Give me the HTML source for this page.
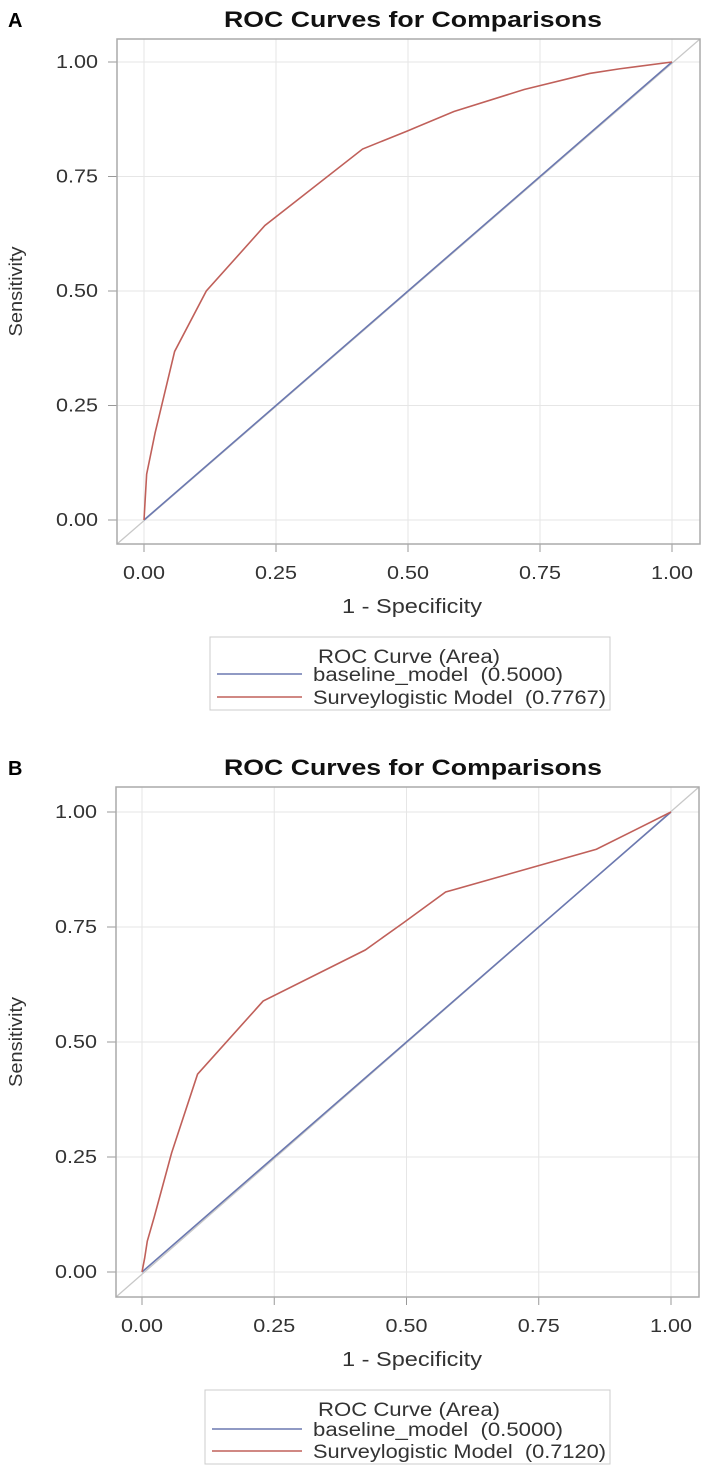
<!DOCTYPE html>
<html><head><meta charset="utf-8"><style>
body{margin:0;background:#fff;width:709px;height:1470px;overflow:hidden}
svg{display:block;font-family:"Liberation Sans",sans-serif}
text{white-space:pre}
</style></head><body>
<svg id="s" width="709" height="1470"></svg>
<script>
const xTicks=[0,0.25,0.5,0.75,1];
const yTicks=[0,0.25,0.5,0.75,1];
const tickLabels=["0.00","0.25","0.50","0.75","1.00"];
const baseFpr=[0,1];
const baseTpr=[0,1];
const aFpr=[0,0.005,0.021,0.058,0.118,0.229,0.414,0.5,0.587,0.72,0.844,0.9,1];
const aTpr=[0,0.1,0.19,0.368,0.5,0.643,0.81,0.85,0.892,0.94,0.975,0.985,1];
const bFpr=[0,0.005,0.01,0.023,0.056,0.105,0.229,0.422,0.494,0.574,0.859,1];
const bTpr=[0,0.03,0.067,0.119,0.259,0.43,0.589,0.70,0.759,0.826,0.919,1];
const legendLabels=["baseline_model  (0.5000)"];
const aucA="Surveylogistic Model  (0.7767)";
const aucB="Surveylogistic Model  (0.7120)";
const NS="http://www.w3.org/2000/svg";
const svg=document.getElementById('s');
function mk(t,a,p,txt){const e=document.createElementNS(NS,t);for(const k in a)e.setAttribute(k,a[k]);if(txt!==undefined)e.textContent=txt;(p||svg).appendChild(e);return e;}
function panel(letter,cfg,fpr,tpr,auc){
 const g=mk('g',{});
 
 
 const X=v=>cfg.x0+v*(cfg.x1-cfg.x0), Y=v=>cfg.y0-v*(cfg.y0-cfg.y1);
 const fl=cfg.fl,fr=cfg.fr,ft=cfg.ft,fb=cfg.fb;
 let e=mk('text',{x:8,y:ft-12,'font-size':20,'font-weight':'bold',fill:'#000'},g,letter);
 
 e=mk('text',{x:224,y:ft-12,'font-size':22,'font-weight':'bold',fill:'#111',textLength:378,lengthAdjust:'spacingAndGlyphs'},g,'ROC Curves for Comparisons');
 
 xTicks.forEach((v,i)=>{
  e=mk('line',{x1:X(v),x2:X(v),y1:ft,y2:fb,stroke:'#e6e6e6','stroke-width':1},g);
  
  mk('line',{x1:X(v),x2:X(v),y1:fb,y2:fb+8,stroke:'#999'},g);
  e=mk('text',{x:X(v),y:fb+35,'font-size':18,'text-anchor':'middle',fill:'#333',textLength:42,lengthAdjust:'spacingAndGlyphs'},g,tickLabels[i]);
  
 });
 yTicks.forEach((v,i)=>{
  e=mk('line',{x1:fl,x2:fr,y1:Y(v),y2:Y(v),stroke:'#e6e6e6','stroke-width':1},g);
  
  mk('line',{x1:fl-9,x2:fl,y1:Y(v),y2:Y(v),stroke:'#999'},g);
  e=mk('text',{x:fl-61,y:Y(v)+6,'font-size':18,fill:'#333',textLength:42,lengthAdjust:'spacingAndGlyphs'},g,tickLabels[i]);
  
 });
 e=mk('line',{x1:fl,y1:fb,x2:fr,y2:ft,stroke:'#c8c8c8','stroke-width':1.3},g);
 
 e=mk('rect',{x:fl,y:ft,width:fr-fl,height:fb-ft,fill:'none',stroke:'#aaa','stroke-width':1.5},g);
 
 e=mk('polyline',{points:baseFpr.map((v,i)=>X(v)+','+Y(baseTpr[i])).join(' '),fill:'none',stroke:'#6b78b0','stroke-width':1.6},g);
 
 e=mk('polyline',{points:fpr.map((v,i)=>X(v)+','+Y(tpr[i])).join(' '),fill:'none',stroke:'#c0605a','stroke-width':1.6},g);
 
 e=mk('text',{x:342,y:fb+69,'font-size':20,fill:'#333',textLength:140,lengthAdjust:'spacingAndGlyphs'},g,'1 - Specificity');
 
 const cy=(ft+fb)/2;
 e=mk('text',{x:22,y:cy,'font-size':18,'text-anchor':'middle',fill:'#333',textLength:90,lengthAdjust:'spacingAndGlyphs',transform:`rotate(-90 22 ${cy})`},g,'Sensitivity');
 
 const lt=fb+93;
 e=mk('rect',{x:cfg.ll,y:lt,width:610-cfg.ll,height:cfg.lh,fill:'#fff',stroke:'#ccc'},g);
 
 e=mk('text',{x:318,y:lt+26,'font-size':19,fill:'#333',textLength:182,lengthAdjust:'spacingAndGlyphs'},g,'ROC Curve (Area)');
 
 const rows=[[legendLabels[0],'#6b78b0',250],[auc,'#c0605a',293]];
 rows.forEach((r,i)=>{
  const ry=lt+cfg.r0+i*cfg.rs;
  mk('line',{x1:cfg.ll+7,x2:302,y1:ry,y2:ry,stroke:r[1],'stroke-width':1.5},g);
  e=mk('text',{x:313,y:ry+7,'font-size':19,fill:'#333',textLength:r[2],lengthAdjust:'spacingAndGlyphs'},g,r[0]);
  
 });
}
panel('A',{x0:144,x1:672,y0:520,y1:62,fl:117,fr:700,ft:39,fb:544,ll:210,lh:73,r0:37,rs:23},aFpr,aTpr,aucA);
panel('B',{x0:142,x1:671,y0:1272,y1:812,fl:116,fr:699,ft:787,fb:1297,ll:205,lh:74,r0:39,rs:22},bFpr,bTpr,aucB);
</script>
</body></html>
